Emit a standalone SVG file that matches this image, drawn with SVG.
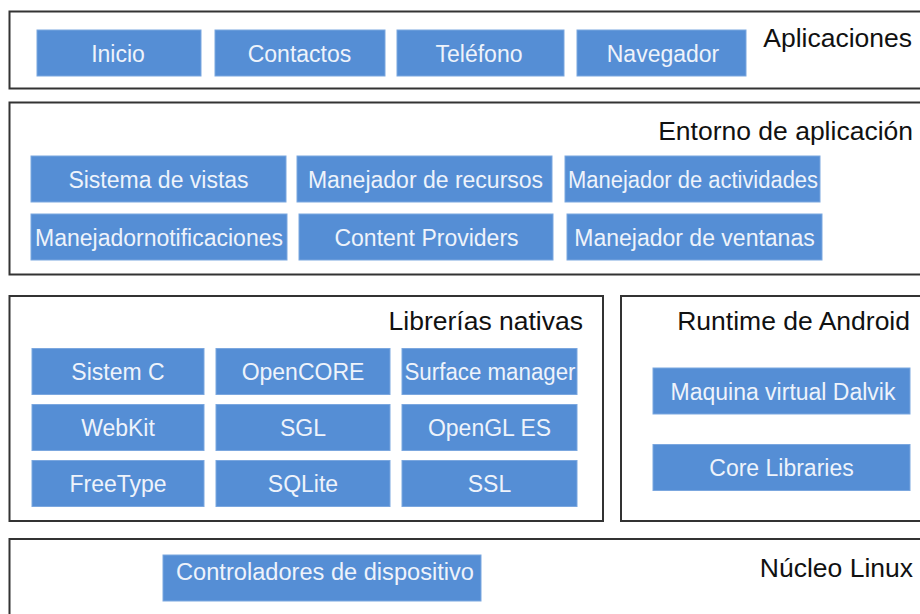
<svg xmlns="http://www.w3.org/2000/svg" width="920" height="614" viewBox="0 0 920 614">
<style>
.layer{fill:#ffffff;stroke:#333333;stroke-width:2}
.btn{fill:#558ed5;stroke:#7ba7df;stroke-width:1}
.bt{font-family:"Liberation Sans",Arial,sans-serif;font-size:23px;fill:#eef3fb;text-anchor:middle}
.ttl{font-family:"Liberation Sans",Arial,sans-serif;font-size:26.5px;fill:#111111;text-anchor:end}
</style>
<rect width="920" height="614" fill="#ffffff"/>
<g id="connectors"></g>

<g id="layer-aplicaciones">
<rect class="layer" x="9.5" y="11.5" width="930" height="77"/>
<text class="ttl" x="912" y="47">Aplicaciones</text>
</g>
<g id="node-inicio"><rect class="btn" x="37" y="30" width="164" height="46"/><text class="bt" x="118" y="62">Inicio</text></g>
<g id="node-contactos"><rect class="btn" x="215" y="30" width="170" height="46"/><text class="bt" x="299.5" y="62">Contactos</text></g>
<g id="node-telefono"><rect class="btn" x="397" y="30" width="167" height="46"/><text class="bt" x="479" y="62">Teléfono</text></g>
<g id="node-navegador"><rect class="btn" x="577" y="30" width="169" height="46"/><text class="bt" x="663" y="62">Navegador</text></g>

<g id="layer-entorno">
<rect class="layer" x="9.5" y="102.5" width="930" height="172"/>
<text class="ttl" x="913" y="140">Entorno de aplicación</text>
</g>
<g id="node-vistas"><rect class="btn" x="31" y="156" width="255" height="46"/><text class="bt" x="158.5" y="187.5">Sistema de vistas</text></g>
<g id="node-recursos"><rect class="btn" x="297" y="156" width="255" height="46"/><text class="bt" x="425.5" y="187.5">Manejador de recursos</text></g>
<g id="node-actividades"><rect class="btn" x="565" y="156" width="255" height="46"/><text class="bt" x="693" y="187.5" textLength="250" lengthAdjust="spacingAndGlyphs">Manejador de actividades</text></g>
<g id="node-notificaciones"><rect class="btn" x="31" y="214" width="256" height="46"/><text class="bt" x="159" y="245.5" textLength="248" lengthAdjust="spacingAndGlyphs">Manejadornotificaciones</text></g>
<g id="node-providers"><rect class="btn" x="299" y="214" width="254" height="46"/><text class="bt" x="426.5" y="245.5">Content Providers</text></g>
<g id="node-ventanas"><rect class="btn" x="567" y="214" width="255" height="46"/><text class="bt" x="694.5" y="245.5">Manejador de ventanas</text></g>

<g id="layer-librerias">
<rect class="layer" x="9.5" y="296" width="593.5" height="225"/>
<text class="ttl" x="583" y="330">Librerías nativas</text>
</g>
<g id="node-sistemc"><rect class="btn" x="32" y="348.5" width="172" height="46"/><text class="bt" x="118" y="380">Sistem C</text></g>
<g id="node-opencore"><rect class="btn" x="216" y="348.5" width="174" height="46"/><text class="bt" x="303" y="380">OpenCORE</text></g>
<g id="node-surface"><rect class="btn" x="402" y="348.5" width="175" height="46"/><text class="bt" x="490" y="380" textLength="171" lengthAdjust="spacingAndGlyphs">Surface manager</text></g>
<g id="node-webkit"><rect class="btn" x="32" y="404.5" width="172" height="46"/><text class="bt" x="118" y="436">WebKit</text></g>
<g id="node-sgl"><rect class="btn" x="216" y="404.5" width="174" height="46"/><text class="bt" x="303" y="436">SGL</text></g>
<g id="node-opengl"><rect class="btn" x="402" y="404.5" width="175" height="46"/><text class="bt" x="489.5" y="436">OpenGL ES</text></g>
<g id="node-freetype"><rect class="btn" x="32" y="460.5" width="172" height="46"/><text class="bt" x="118" y="492">FreeType</text></g>
<g id="node-sqlite"><rect class="btn" x="216" y="460.5" width="174" height="46"/><text class="bt" x="303" y="492">SQLite</text></g>
<g id="node-ssl"><rect class="btn" x="402" y="460.5" width="175" height="46"/><text class="bt" x="489.5" y="492">SSL</text></g>

<g id="layer-runtime">
<rect class="layer" x="621" y="296" width="320" height="225"/>
<text class="ttl" x="910" y="330">Runtime de Android</text>
</g>
<g id="node-dalvik"><rect class="btn" x="653" y="368" width="257" height="46"/><text class="bt" x="783" y="399.5">Maquina virtual Dalvik</text></g>
<g id="node-core"><rect class="btn" x="653" y="444.5" width="257" height="46"/><text class="bt" x="781.5" y="476">Core Libraries</text></g>

<g id="layer-nucleo">
<rect class="layer" x="9.5" y="539" width="930" height="90"/>
<text class="ttl" x="913" y="577">Núcleo Linux</text>
</g>
<g id="node-controladores"><rect class="btn" x="163" y="555" width="318" height="46"/><text class="bt" x="325" y="580" textLength="298" lengthAdjust="spacingAndGlyphs">Controladores de dispositivo</text></g>
</svg>
